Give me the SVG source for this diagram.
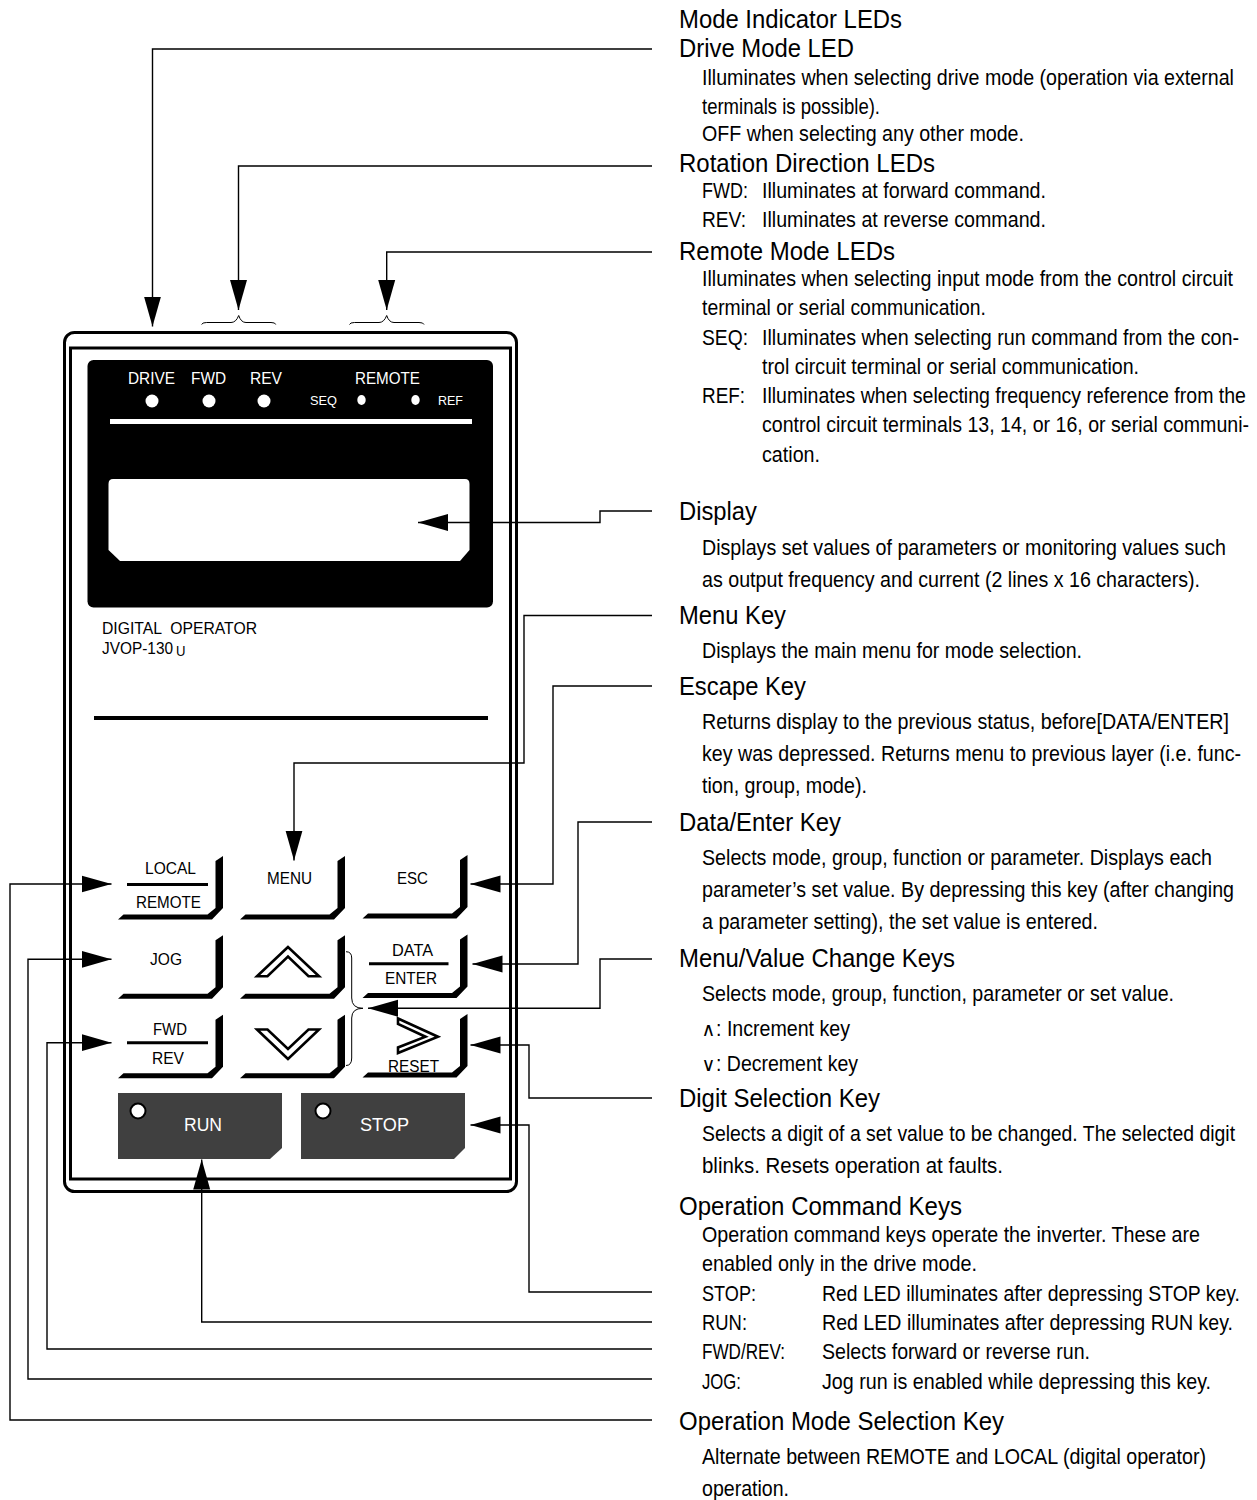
<svg xmlns="http://www.w3.org/2000/svg" width="1257" height="1500" viewBox="0 0 1257 1500">
<style>
text{font-family:"Liberation Sans",Arial,sans-serif;fill:#000}
.h{font-size:25.500px}
.b{font-size:22.500px}
.n{transform-box:fill-box;transform-origin:0 50%;transform:scaleX(.8)}
.k{font-size:16px}
.w{font-size:16px;fill:#fff}
.s{font-size:13px;fill:#fff}
.r{font-size:18px;fill:#fff}
.c{fill:none;stroke:#000;stroke-width:1.4}
.br{fill:none;stroke:#000;stroke-width:1}
.gl{fill:#fff;stroke:#000;stroke-width:2.600;stroke-linejoin:miter}
.sep{stroke:#000;stroke-width:3}
.op{font-family:"DejaVu Sans",sans-serif;font-size:19px}
</style>
<defs>
<marker id="ah" markerUnits="userSpaceOnUse" markerWidth="31" markerHeight="18" viewBox="0 0 31 18" refX="30" refY="9" orient="auto"><path d="M0 0.5L30 9L0 17.5Z" fill="#000"/></marker>
<path id="keyshape" d="M215.500 861L223 856V908L212 919.500H118L123.500 914.500H207.500L215.500 908Z" fill="#000"/>
</defs>
<rect width="1257" height="1500" fill="#fff"/>
<g id="panel">
<rect x="64.500" y="332.500" width="452" height="859" rx="10" fill="#fff" stroke="#000" stroke-width="3"/>
<rect x="70.500" y="348" width="440" height="831" fill="none" stroke="#000" stroke-width="3"/>
<rect x="94" y="716" width="394" height="4" fill="#000"/>
</g>
<g id="display">
<rect x="87.500" y="360" width="405.500" height="247.500" rx="6" fill="#000"/>
<rect x="110" y="419" width="362" height="5" fill="#fff"/>
<path d="M113 479H465Q469.500 479 469.500 484V550L460 561H120L108.500 550V484Q108.500 479 113 479Z" fill="#fff"/>
<text class="w" x="128" y="384" textLength="47" lengthAdjust="spacingAndGlyphs">DRIVE</text>
<text class="w" x="191" y="384" textLength="35" lengthAdjust="spacingAndGlyphs">FWD</text>
<text class="w" x="250" y="384" textLength="32" lengthAdjust="spacingAndGlyphs">REV</text>
<text class="w" x="355" y="384" textLength="65" lengthAdjust="spacingAndGlyphs">REMOTE</text>
<text class="s" x="310" y="405" textLength="27" lengthAdjust="spacingAndGlyphs">SEQ</text>
<text class="s" x="438" y="405" textLength="25" lengthAdjust="spacingAndGlyphs">REF</text>
<circle cx="152" cy="401" r="6.500" fill="#fff"/>
<circle cx="209" cy="401" r="6.500" fill="#fff"/>
<circle cx="264" cy="401" r="6.500" fill="#fff"/>
<ellipse cx="361.500" cy="400" rx="4.200" ry="5" fill="#fff"/>
<ellipse cx="415.500" cy="400" rx="4.200" ry="5" fill="#fff"/>
</g>
<g id="model-label">
<text class="k" x="102" y="634" textLength="155" lengthAdjust="spacingAndGlyphs" xml:space="preserve">DIGITAL  OPERATOR</text>
<text class="k" x="102" y="654" textLength="71" lengthAdjust="spacingAndGlyphs">JVOP-130</text>
<text x="176" y="655.500" style="font-size:14px" textLength="9.500" lengthAdjust="spacingAndGlyphs">U</text>
</g>
<g id="key-local-remote"><use href="#keyshape"/><line class="sep" x1="127" y1="884.500" x2="208" y2="884.500"/>
<text class="k" x="145" y="873.500" textLength="51" lengthAdjust="spacingAndGlyphs">LOCAL</text>
<text class="k" x="136" y="908" textLength="65" lengthAdjust="spacingAndGlyphs">REMOTE</text></g>
<g id="key-menu"><use href="#keyshape" x="122"/><text class="k" x="267" y="884" textLength="45" lengthAdjust="spacingAndGlyphs">MENU</text></g>
<g id="key-esc"><use href="#keyshape" x="244.500" y="-1"/><text class="k" x="397" y="884" textLength="31" lengthAdjust="spacingAndGlyphs">ESC</text></g>
<g id="key-jog"><use href="#keyshape" y="79.300"/><text class="k" x="150" y="965" textLength="32" lengthAdjust="spacingAndGlyphs">JOG</text></g>
<g id="key-up"><use href="#keyshape" x="122" y="79.300"/><path class="gl" d="M288 947L257 976.300H267.500L288 956.500L308.500 976.300H319Z"/></g>
<g id="key-data-enter"><use href="#keyshape" x="244.500" y="78.500"/><line class="sep" x1="369" y1="963.700" x2="448.500" y2="963.700"/>
<text class="k" x="392" y="956" textLength="41" lengthAdjust="spacingAndGlyphs">DATA</text>
<text class="k" x="385" y="984" textLength="52" lengthAdjust="spacingAndGlyphs">ENTER</text></g>
<g id="key-fwd-rev"><use href="#keyshape" y="158.700"/><line class="sep" x1="127" y1="1042.700" x2="208" y2="1042.700"/>
<text class="k" x="153" y="1035" textLength="34" lengthAdjust="spacingAndGlyphs">FWD</text>
<text class="k" x="152" y="1064" textLength="32" lengthAdjust="spacingAndGlyphs">REV</text></g>
<g id="key-down"><use href="#keyshape" x="122" y="158.700"/><path class="gl" d="M288 1059L257 1029.500H267.500L288 1049L308.500 1029.500H319Z"/></g>
<g id="key-reset"><use href="#keyshape" x="244.500" y="158"/><path class="gl" d="M398 1018.500L438 1036.700L398 1053V1047.500L425.500 1036.700L398 1024Z"/>
<text class="k" x="388" y="1072" textLength="51" lengthAdjust="spacingAndGlyphs">RESET</text></g>
<g id="key-run"><path d="M118 1093H282V1148L270 1159H118Z" fill="#404040"/><circle cx="138" cy="1111" r="7.500" fill="#fff" stroke="#000" stroke-width="2"/><text class="r" x="184" y="1131" textLength="38" lengthAdjust="spacingAndGlyphs">RUN</text></g>
<g id="key-stop"><path d="M301 1093H465V1148L454 1159H301Z" fill="#404040"/><circle cx="323" cy="1111" r="7.500" fill="#fff" stroke="#000" stroke-width="2"/><text class="r" x="360" y="1131" textLength="49" lengthAdjust="spacingAndGlyphs">STOP</text></g>
<g id="connectors">
<path class="c" marker-end="url(#ah)" d="M652 49H152.500V326.500"/>
<path class="c" marker-end="url(#ah)" d="M652 166H238.500V310"/>
<path class="c" marker-end="url(#ah)" d="M652 252H386.700V310"/>
<path class="c" marker-end="url(#ah)" d="M652 511H600V522.500H418"/>
<path class="c" marker-end="url(#ah)" d="M652 615.500H524V763H294V860.500"/>
<path class="c" marker-end="url(#ah)" d="M652 686H553V884H470.500"/>
<path class="c" marker-end="url(#ah)" d="M652 822H578V964H472.500"/>
<path class="c" marker-end="url(#ah)" d="M652 959H600V1008.300H368"/>
<path class="c" marker-end="url(#ah)" d="M652 1098H529V1045H470.500"/>
<path class="c" marker-end="url(#ah)" d="M652 1292H529V1125H470.500"/>
<path class="c" marker-end="url(#ah)" d="M652 1322H201.700V1159.500"/>
<path class="c" marker-end="url(#ah)" d="M652 1349H47V1042.700H111.500"/>
<path class="c" marker-end="url(#ah)" d="M652 1379H28V959.300H111.500"/>
<path class="c" marker-end="url(#ah)" d="M652 1420H10V884H111.500"/>
</g>
<g id="braces">
<path class="br" d="M201.700 324.500Q202 322.500 206.700 322.500H231Q236 322.500 238.700 315.500Q241 322.500 246 322.500H271Q275.500 322.500 275.700 324.500"/>
<path class="br" d="M349.500 324.500Q350 322.500 354.500 322.500H379Q384 322.500 386.700 315.500Q389 322.500 394 322.500H419Q423.500 322.500 424 324.500"/>
<path class="br" d="M346 951.700Q351.700 951.700 351.700 958V998Q351.700 1008.300 363 1008.300Q351.700 1008.300 351.700 1018V1058Q351.700 1065.500 346 1065.500"/>
</g>
<g id="label-mode-indicator"><text class="h" x="679" y="28" textLength="223" lengthAdjust="spacingAndGlyphs">Mode Indicator LEDs</text></g>
<g id="label-drive-mode">
<text class="h" x="679" y="57" textLength="175" lengthAdjust="spacingAndGlyphs">Drive Mode LED</text>
<text class="b n" x="702" y="85.500" textLength="665" lengthAdjust="spacingAndGlyphs">Illuminates when selecting drive mode (operation via external</text>
<text class="b" x="702" y="113.500" textLength="178" lengthAdjust="spacingAndGlyphs">terminals is possible).</text>
<text class="b" x="702" y="141" textLength="322" lengthAdjust="spacingAndGlyphs">OFF when selecting any other mode.</text>
</g>
<g id="label-rotation">
<text class="h" x="679" y="172" textLength="256" lengthAdjust="spacingAndGlyphs">Rotation Direction LEDs</text>
<text class="b" x="702" y="198" textLength="46" lengthAdjust="spacingAndGlyphs">FWD:</text>
<text class="b" x="762" y="198" textLength="284" lengthAdjust="spacingAndGlyphs">Illuminates at forward command.</text>
<text class="b" x="702" y="227" textLength="44" lengthAdjust="spacingAndGlyphs">REV:</text>
<text class="b" x="762" y="227" textLength="284" lengthAdjust="spacingAndGlyphs">Illuminates at reverse command.</text>
</g>
<g id="label-remote">
<text class="h" x="679" y="260" textLength="216" lengthAdjust="spacingAndGlyphs">Remote Mode LEDs</text>
<text class="b n" x="702" y="286" textLength="663.800" lengthAdjust="spacingAndGlyphs">Illuminates when selecting input mode from the control circuit</text>
<text class="b" x="702" y="315" textLength="284" lengthAdjust="spacingAndGlyphs">terminal or serial communication.</text>
<text class="b" x="702" y="345" textLength="46" lengthAdjust="spacingAndGlyphs">SEQ:</text>
<text class="b n" x="762" y="345" textLength="596.300" lengthAdjust="spacingAndGlyphs">Illuminates when selecting run command from the con-</text>
<text class="b" x="762" y="374" textLength="377" lengthAdjust="spacingAndGlyphs">trol circuit terminal or serial communication.</text>
<text class="b" x="702" y="403" textLength="43" lengthAdjust="spacingAndGlyphs">REF:</text>
<text class="b n" x="762" y="403" textLength="605" lengthAdjust="spacingAndGlyphs">Illuminates when selecting frequency reference from the</text>
<text class="b n" x="762" y="432" textLength="608.800" lengthAdjust="spacingAndGlyphs">control circuit terminals 13, 14, or 16, or serial communi-</text>
<text class="b" x="762" y="462" textLength="58" lengthAdjust="spacingAndGlyphs">cation.</text>
</g>
<g id="label-display">
<text class="h" x="679" y="520" textLength="78" lengthAdjust="spacingAndGlyphs">Display</text>
<text class="b n" x="702" y="555" textLength="655" lengthAdjust="spacingAndGlyphs">Displays set values of parameters or monitoring values such</text>
<text class="b n" x="702" y="587" textLength="622.500" lengthAdjust="spacingAndGlyphs">as output frequency and current (2 lines x 16 characters).</text>
</g>
<g id="label-menu">
<text class="h" x="679" y="624" textLength="107" lengthAdjust="spacingAndGlyphs">Menu Key</text>
<text class="b" x="702" y="658" textLength="380" lengthAdjust="spacingAndGlyphs">Displays the main menu for mode selection.</text>
</g>
<g id="label-escape">
<text class="h" x="679" y="695" textLength="127" lengthAdjust="spacingAndGlyphs">Escape Key</text>
<text class="b n" x="702" y="729" textLength="658.800" lengthAdjust="spacingAndGlyphs">Returns display to the previous status, before[DATA/ENTER]</text>
<text class="b n" x="702" y="761" textLength="673.800" lengthAdjust="spacingAndGlyphs">key was depressed. Returns menu to previous layer (i.e. func-</text>
<text class="b" x="702" y="793" textLength="165" lengthAdjust="spacingAndGlyphs">tion, group, mode).</text>
</g>
<g id="label-data">
<text class="h" x="679" y="831" textLength="162" lengthAdjust="spacingAndGlyphs">Data/Enter Key</text>
<text class="b n" x="702" y="865" textLength="637.500" lengthAdjust="spacingAndGlyphs">Selects mode, group, function or parameter. Displays each</text>
<text class="b n" x="702" y="897" textLength="665" lengthAdjust="spacingAndGlyphs">parameter’s set value. By depressing this key (after changing</text>
<text class="b" x="702" y="929" textLength="396" lengthAdjust="spacingAndGlyphs">a parameter setting), the set value is entered.</text>
</g>
<g id="label-value">
<text class="h" x="679" y="967" textLength="276" lengthAdjust="spacingAndGlyphs">Menu/Value Change Keys</text>
<text class="b n" x="702" y="1001" textLength="590" lengthAdjust="spacingAndGlyphs">Selects mode, group, function, parameter or set value.</text>
<text class="op" x="701.500" y="1036">∧</text>
<text class="b" x="716" y="1036" textLength="134" lengthAdjust="spacingAndGlyphs">: Increment key</text>
<text class="op" x="701.500" y="1071">∨</text>
<text class="b" x="716" y="1071" textLength="142" lengthAdjust="spacingAndGlyphs">: Decrement key</text>
</g>
<g id="label-digit">
<text class="h" x="679" y="1107" textLength="201" lengthAdjust="spacingAndGlyphs">Digit Selection Key</text>
<text class="b n" x="702" y="1141" textLength="666.300" lengthAdjust="spacingAndGlyphs">Selects a digit of a set value to be changed. The selected digit</text>
<text class="b" x="702" y="1173" textLength="301" lengthAdjust="spacingAndGlyphs">blinks. Resets operation at faults.</text>
</g>
<g id="label-operation">
<text class="h" x="679" y="1215" textLength="283" lengthAdjust="spacingAndGlyphs">Operation Command Keys</text>
<text class="b n" x="702" y="1242" textLength="622.500" lengthAdjust="spacingAndGlyphs">Operation command keys operate the inverter. These are</text>
<text class="b" x="702" y="1271" textLength="275" lengthAdjust="spacingAndGlyphs">enabled only in the drive mode.</text>
<text class="b" x="702" y="1301" textLength="54" lengthAdjust="spacingAndGlyphs">STOP:</text>
<text class="b n" x="822" y="1301" textLength="522.500" lengthAdjust="spacingAndGlyphs">Red LED illuminates after depressing STOP key.</text>
<text class="b" x="702" y="1330" textLength="45" lengthAdjust="spacingAndGlyphs">RUN:</text>
<text class="b n" x="822" y="1330" textLength="513.800" lengthAdjust="spacingAndGlyphs">Red LED illuminates after depressing RUN key.</text>
<text class="b" x="702" y="1359" textLength="83" lengthAdjust="spacingAndGlyphs">FWD/REV:</text>
<text class="b" x="822" y="1359" textLength="268" lengthAdjust="spacingAndGlyphs">Selects forward or reverse run.</text>
<text class="b" x="702" y="1389" textLength="39" lengthAdjust="spacingAndGlyphs">JOG:</text>
<text class="b n" x="822" y="1389" textLength="486.300" lengthAdjust="spacingAndGlyphs">Jog run is enabled while depressing this key.</text>
</g>
<g id="label-mode-selection">
<text class="h" x="679" y="1430" textLength="325" lengthAdjust="spacingAndGlyphs">Operation Mode Selection Key</text>
<text class="b n" x="702" y="1464" textLength="630" lengthAdjust="spacingAndGlyphs">Alternate between REMOTE and LOCAL (digital operator)</text>
<text class="b" x="702" y="1496" textLength="87" lengthAdjust="spacingAndGlyphs">operation.</text>
</g>
</svg>
